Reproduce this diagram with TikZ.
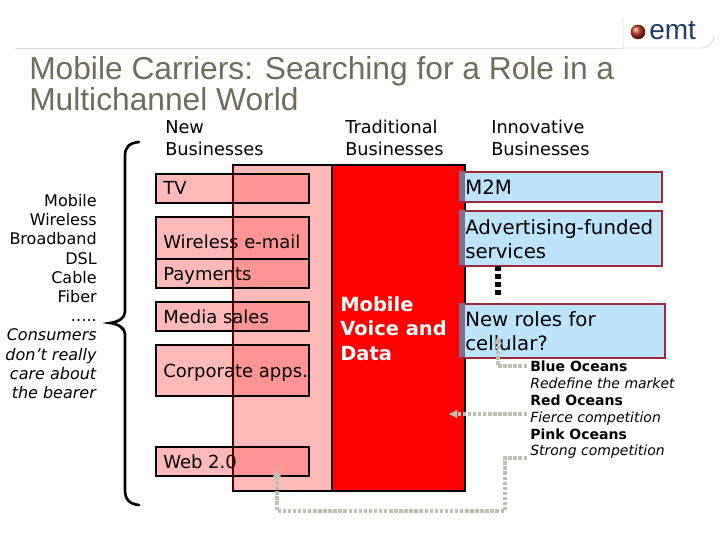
\documentclass[tikz,border=0pt]{standalone}
\usepackage{fontspec}
\setmainfont{DejaVu Sans}
\newfontfamily\titlefont{Liberation Sans}
\usetikzlibrary{arrows.meta}
\definecolor{titlegrey}{RGB}{112,108,90}
\definecolor{pinkfill}{RGB}{255,185,185}
\definecolor{overlapfill}{RGB}{255,148,148}
\definecolor{cellblue}{RGB}{190,228,252}
\definecolor{cellborder}{RGB}{160,40,60}
\definecolor{cellside}{RGB}{130,110,140}
\definecolor{linkgrey}{RGB}{190,190,178}
\definecolor{logored}{RGB}{190,50,30}
\definecolor{logoblue}{RGB}{30,60,100}
\tikzset{
  px/.style={x=0.75pt,y=-0.75pt},
  head/.style={font=\fontsize{13.3}{16.5}\selectfont, align=left, anchor=north west, inner sep=0pt},
  newtext/.style={font=\fontsize{13.5}{15}\selectfont, anchor=west, inner sep=0pt},
  cell/.style={draw=cellborder, line width=1.5pt, fill=cellblue, anchor=north west, inner sep=0pt},
  celltext/.style={font=\fontsize{14.8}{18.4}\selectfont, align=left, anchor=north west, inner sep=0pt},
  bearer/.style={font=\fontsize{12}{14.4}\selectfont, align=right, anchor=north east, inner sep=0pt},
  ocean/.style={font=\fontsize{10.5}{12.6}\selectfont, align=left, anchor=north west, inner sep=0pt},
  link/.style={draw=linkgrey, line width=2.6pt, dash pattern=on 2.6pt off 1.2pt, -{Latex[length=7pt,width=7pt]}}
}
\begin{document}
\begin{tikzpicture}[px]
  \useasboundingbox (0,0) rectangle (720,540);

  % logo and rule
  \draw[black!15, line width=0.7pt] (15,48) -- (623,48);
  \draw[black!15, line width=0.7pt] (623,18) -- (623,48) -- (702,48) .. controls (708,48) and (713,44) .. (714,36);
  \shade[ball color=logored] (638,32) circle (5.5pt);
  \node[font=\titlefont\fontsize{21}{21}\selectfont, text=logoblue, anchor=west, inner sep=0pt] (logotext) at (649,31) {emt};

  % title
  \node[font=\titlefont\fontsize{23.8}{23.3}\selectfont, text=titlegrey, align=left, anchor=north west, inner sep=0pt] (title) at (29,56)
    {Mobile Carriers: Searching for a Role in a\\Multichannel World};

  % column heads
  \node[head] (headnew) at (165,120) {New\\Businesses};
  \node[head] (headtrad) at (345,120) {Traditional\\Businesses};
  \node[head] (headinno) at (491,120) {Innovative\\Businesses};

  % bearers
  \node[bearer] (bearers) at (97,194) {Mobile\\Wireless\\Broadband\\DSL\\Cable\\Fiber\\…..\\\textit{Consumers}\\\textit{don't really}\\\textit{care about}\\\textit{the bearer}};
  \draw[line width=2pt, line cap=round] (139,142) .. controls (129,143) and (125,147) .. (125,156)
    -- (125,312) .. controls (125,318) and (118,322) .. (110,323) .. controls (118,324) and (125,328) .. (125,334)
    -- (125,490) .. controls (125,499) and (129,504) .. (139,505);

  % pink and red columns
  \draw[black, line width=1.5pt, fill=pinkfill] (233,165) rectangle (332,491);
  \draw[black, line width=1.5pt, fill=red] (332,165) rectangle (465,491);
  \node[font=\bfseries\fontsize{14.6}{18.4}\selectfont, text=white, align=left, anchor=north west, inner sep=0pt] (voice) at (340,296) {Mobile\\Voice and\\Data};

  % new businesses: left part, overlap part, frame
  \foreach \name/\y/\h/\ty/\text in {%
    tv/174/29/188/{TV},
    email/217/50/242/{Wireless e-mail},
    pay/259/29/276/{Payments},
    media/302/29/317/{Media sales},
    corp/345/51/373/{Corporate apps.},
    web/447/29/462/{Web 2.0}}
  {
    \fill[pinkfill] (156,\y) rectangle (233,\y+\h);
    \fill[overlapfill] (233,\y) rectangle (309,\y+\h);
    \draw[black, line width=1.5pt] (156,\y) rectangle (309,\y+\h);
    \node[newtext] (\name) at (163,\ty) {\text};
  }
  \draw[black!70!red, line width=1.5pt] (233,165) -- (233,491);

  % innovative businesses
  \foreach \name/\y/\h/\r/\ty/\text in {%
    mm/171/30/661/180/{M2M},
    ads/210/55/661/219/{Advertising-funded\\services},
    roles/303/54/664/311/{New roles for\\cellular?}}
  {
    \node[cell, minimum width=\r*0.75pt-459*0.75pt, minimum height=\h*0.75pt] (\name) at (459,\y) {};
    \fill[cellside] (459,\y) rectangle (465,\y+\h);
    \node[celltext] (\name text) at (465,\ty) {\text};
  }
  \coordinate (dotstart) at (498,266);
  \coordinate (dotend) at (498,298);
  \draw[line width=4.5pt, dash pattern=on 3.7pt off 2.3pt] (dotstart) -- (dotend);

  % oceans
  \node[ocean] (oceans) at (530,361) {\textbf{Blue Oceans}\\\textit{Redefine the market}\\\textbf{Red Oceans}\\\textit{Fierce competition}\\\textbf{Pink Oceans}\\\textit{Strong competition}};

  % links
  \coordinate (bluelink) at (527,366);
  \coordinate (redlink) at (527,414);
  \coordinate (pinklink) at (527,458);
  \coordinate (rolesin) at (498,335);
  \coordinate (voicein) at (448,414);
  \coordinate (webin) at (277,468);
  \draw[link] (bluelink) -- (498,366) -- (rolesin);
  \draw[link] (redlink) -- (voicein);
  \draw[link] (pinklink) -- (505,458) -- (505,511) -- (277,511) -- (webin);
\end{tikzpicture}
\end{document}
